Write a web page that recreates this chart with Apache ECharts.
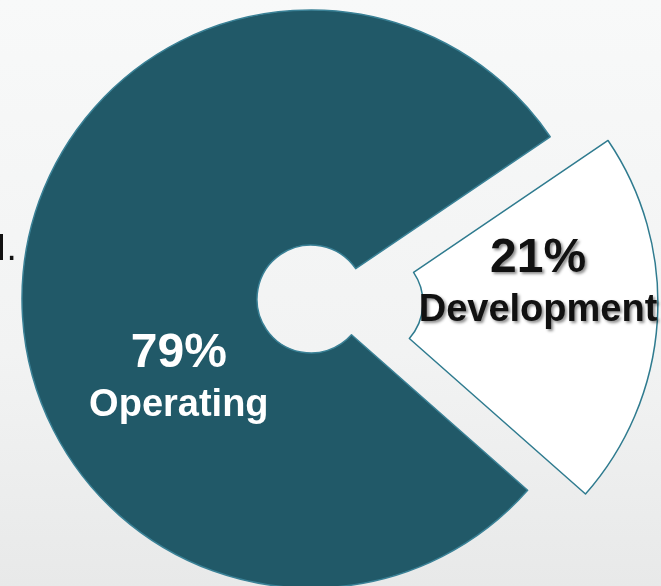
<!DOCTYPE html>
<html>
<head>
<meta charset="utf-8">
<script src="https://cdn.jsdelivr.net/npm/echarts@6/dist/echarts.min.js"></script>
<style>
html,body{margin:0;padding:0;width:661px;height:586px;overflow:hidden;}
#chart{width:661px;height:586px;}
</style>
</head>
<body>
<div id="chart"></div>
<script>
const categories = ['Development', 'Operating'];
const shares = [21, 79];
const sliceColors = ['#ffffff', '#215968'];
const sliceBorders = ['#2f7b8f', '#3a8196'];
const labelColors = ['#111111', '#ffffff'];

const chart = echarts.init(document.getElementById('chart'));
const labelShift = [{dx: -5, dy: -29}, {dx: 42, dy: 92}];

const option = {
  animation: false,
  backgroundColor: {
    type: 'linear', x: 0, y: 0, x2: 0, y2: 1,
    colorStops: [
      {offset: 0, color: '#f8f9f9'},
      {offset: 0.6, color: '#f2f3f3'},
      {offset: 1, color: '#e8e9e9'}
    ]
  },
  graphic: [{
    type: 'text', right: 644, top: 234,
    style: {text: 'ed.', font: '34px "DejaVu Sans"', fill: '#111', textAlign: 'right'}
  }],
  series: [{
    type: 'pie',
    center: [311, 299],
    radius: [54, 289],
    startAngle: 34.15,
    clockwise: true,
    selectedMode: 'single',
    selectedOffset: 58,
    emphasis: {disabled: true},
    label: {
      show: true,
      position: 'inside',
      formatter: '{pct|{c}%}\n{name|{b}}',
      rich: {
        pct: {fontFamily: 'Liberation Sans', fontWeight: 'bold', fontSize: 48, lineHeight: 52},
        name: {fontFamily: 'Liberation Sans', fontWeight: 'bold', fontSize: 38, lineHeight: 52}
      }
    },
    labelLine: {show: false},
    labelLayout: function (p) { return labelShift[p.dataIndex]; },
    data: categories.map(function (c, i) {
      return {
        name: c,
        value: shares[i],
        selected: i === 0,
        itemStyle: {color: sliceColors[i], borderColor: sliceBorders[i], borderWidth: 1.5},
        label: i === 0 ? {
          color: labelColors[i],
          textShadowColor: 'rgba(0,0,0,0.45)', textShadowBlur: 3, textShadowOffsetX: 2, textShadowOffsetY: 2,
          rich: {pct: {color: labelColors[i]}, name: {color: labelColors[i]}}
        } : {
          color: labelColors[i],
          rich: {pct: {color: labelColors[i]}, name: {color: labelColors[i]}}
        }
      };
    })
  }]
};
chart.setOption(option);
</script>
</body>
</html>
